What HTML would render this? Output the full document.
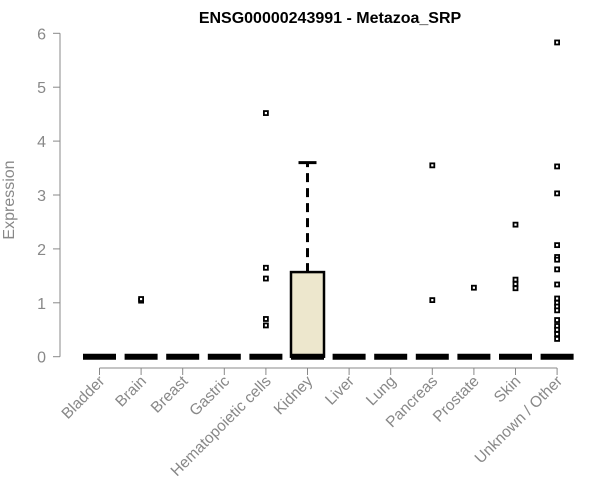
<!DOCTYPE html>
<html><head><meta charset="utf-8"><style>body{margin:0;background:#fff}svg{display:block;font-family:"Liberation Sans",sans-serif}</style></head>
<body>
<svg id="c" width="600" height="500"></svg>
<script>
const categories=["Bladder","Brain","Breast","Gastric","Hematopoietic cells","Kidney","Liver","Lung","Pancreas","Prostate","Skin","Unknown / Other"];
const q1=[0,0,0,0,0,0,0,0,0,0,0,0];
const medians=[0,0,0,0,0,0,0,0,0,0,0,0];
const q3=[0,0,0,0,0,1.57,0,0,0,0,0,0];
const whiskerHigh=[0,0,0,0,0,3.6,0,0,0,0,0,0];
const outliers=[[],[1.04,1.07],[],[],[4.52,1.65,1.45,0.7,0.58],[],[],[],[3.55,1.05],[1.28],[2.45,1.43,1.35,1.27],[5.83,3.53,3.03,2.07,1.85,1.8,1.62,1.34,1.08,1.0,0.93,0.86,0.68,0.57,0.5,0.42,0.33]];
const yTicks=[0,1,2,3,4,5,6];
const NS="http://www.w3.org/2000/svg",svg=document.getElementById("c");
const y=v=>356.7-v*53.9, x=i=>99.5+i*41.6;
function el(t,a,p){const e=document.createElementNS(NS,t);for(const k in a)e.setAttribute(k,a[k]);(p||svg).appendChild(e);return e;}
const title=el("text",{x:330,y:23,"text-anchor":"middle","font-size":16,"font-weight":"bold",fill:"#000"});title.textContent="ENSG00000243991 - Metazoa_SRP";

const yt=el("text",{x:14,y:200,"text-anchor":"middle","font-size":16,fill:"#888",transform:"rotate(-90 14 200)"});yt.textContent="Expression";

const ya=el("g",{});
el("line",{x1:60,x2:60,y1:y(0),y2:y(6),stroke:"#888"},ya);
yTicks.forEach(v=>{el("line",{x1:53,x2:60,y1:y(v),y2:y(v),stroke:"#888"},ya);const t=el("text",{x:46,y:y(v)+6,"text-anchor":"end","font-size":16,fill:"#888"},ya);t.textContent=v;});
const xa=el("g",{});
el("line",{x1:x(0),x2:x(11),y1:368,y2:368,stroke:"#888"},xa);
categories.forEach((c,i)=>{el("line",{x1:x(i),x2:x(i),y1:368,y2:375,stroke:"#888"},xa);
const t=el("text",{x:x(i)+6,y:382,"text-anchor":"end","font-size":15.5,fill:"#888",transform:`rotate(-45 ${x(i)+6} 382)`},xa);t.textContent=c;
});
categories.forEach((c,i)=>{const g=el("g",{});
const cx=x(i),hw=16.5;
if(whiskerHigh[i]>q3[i]){el("line",{x1:cx,x2:cx,y1:y(q3[i]),y2:y(whiskerHigh[i]),stroke:"#000","stroke-width":3,"stroke-dasharray":"9,6"},g);
el("line",{x1:cx-9,x2:cx+9,y1:y(whiskerHigh[i]),y2:y(whiskerHigh[i]),stroke:"#000","stroke-width":3},g);}
if(q3[i]>q1[i])el("rect",{x:cx-hw,y:y(q3[i]),width:2*hw,height:y(q1[i])-y(q3[i]),fill:"#EDE7CD",stroke:"#000","stroke-width":2.5},g);
el("line",{x1:cx-hw,x2:cx+hw,y1:y(medians[i]),y2:y(medians[i]),stroke:"#000","stroke-width":6},g);
outliers[i].forEach(v=>{el("rect",{x:cx-2,y:y(v)-2,width:4,height:4,fill:"#fff",stroke:"#000","stroke-width":1.8},g);});});
</script>
</body></html>
